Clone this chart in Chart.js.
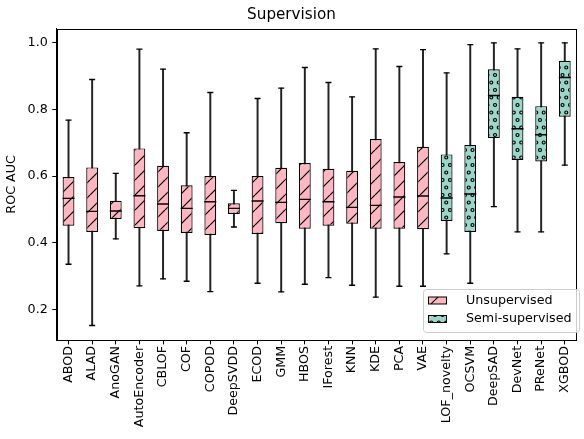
<!DOCTYPE html>
<html>
<head>
<meta charset="utf-8">
<script src="https://cdn.jsdelivr.net/npm/chart.js@4/dist/chart.umd.min.js"></script>
<style>
  html, body { margin: 0; padding: 0; background: #fff; }
  #chart { display: block; }
</style>
</head>
<body>
<canvas id="chart" width="584" height="439"></canvas>
<script>
// values (ROC AUC per model)
const categories = ['ABOD', 'ALAD', 'AnoGAN', 'AutoEncoder', 'CBLOF', 'COF', 'COPOD', 'DeepSVDD',
    'ECOD', 'GMM', 'HBOS', 'IForest', 'KNN', 'KDE', 'PCA', 'VAE', 'LOF_novelty', 'OCSVM',
    'DeepSAD', 'DevNet', 'PReNet', 'XGBOD'];
const groups = ['u', 'u', 'u', 'u', 'u', 'u', 'u', 'u', 'u', 'u', 'u', 'u', 'u', 'u', 'u', 'u', 's',
    's', 's', 's', 's', 's'];
const whiskLow = [0.335, 0.151, 0.411, 0.270, 0.291, 0.284, 0.253, 0.447, 0.278, 0.252, 0.275,
    0.295, 0.272, 0.236, 0.269, 0.269, 0.366, 0.278, 0.508, 0.432, 0.432, 0.633];
const q1 = [0.451, 0.432, 0.471, 0.443, 0.435, 0.429, 0.423, 0.486, 0.426, 0.458, 0.442, 0.451,
    0.457, 0.442, 0.442, 0.440, 0.465, 0.432, 0.714, 0.648, 0.644, 0.778];
const medians = [0.533, 0.494, 0.495, 0.541, 0.516, 0.503, 0.523, 0.503, 0.525, 0.521, 0.530,
    0.523, 0.506, 0.512, 0.537, 0.540, 0.534, 0.546, 0.842, 0.742, 0.724, 0.896];
const q3 = [0.597, 0.626, 0.526, 0.683, 0.631, 0.572, 0.600, 0.518, 0.600, 0.625, 0.639, 0.622,
    0.616, 0.711, 0.642, 0.688, 0.665, 0.693, 0.921, 0.838, 0.810, 0.946];
const whiskHigh = [0.768, 0.890, 0.608, 0.981, 0.921, 0.730, 0.851, 0.557, 0.833, 0.864, 0.926,
    0.881, 0.838, 0.982, 0.929, 0.980, 0.910, 0.995, 1.000, 0.982, 1.000, 1.000];
const seriesNames = ['Unsupervised', 'Semi-supervised'];
const yTicks = [0.2, 0.4, 0.6, 0.8, 1.0];

const PINK = '#ffb6c1';
const GREEN = '#99d8c9';
const FONT = 'DejaVu Sans';

function makePattern(fill, kind) {
    const c = document.createElement('canvas');
    c.width = 15;
    c.height = 15;
    const g = c.getContext('2d');
    g.fillStyle = fill;
    g.fillRect(0, 0, 15, 15);
    g.strokeStyle = '#000';
    g.lineWidth = 1.2;
    if (kind === 'slash') {
        [-15, 0, 15].forEach(k => {
            g.beginPath();
            g.moveTo(k, 15);
            g.lineTo(k + 15, 0);
            g.stroke();
        });
    } else {
        const pts = [[0, 0], [7.5, 0], [15, 0], [3.75, 7.5], [11.25, 7.5], [0, 15], [7.5, 15], [15, 15]];
        pts.forEach(p => {
            g.beginPath();
            g.arc(p[0], p[1], 1.5, 0, Math.PI * 2);
            g.stroke();
        });
    }
    return g.createPattern(c, 'repeat');
}

const slashFill = makePattern(PINK, 'slash');
const dotFill = makePattern(GREEN, 'dots');

const boxData = key => categories.map((_, i) => groups[i] === key ? [q1[i], q3[i]] : null);

const frameAndLegend = {
    id: 'frameAndLegend',
    afterDraw(chart) {
        const ctx = chart.ctx;
        const a = chart.chartArea;
        ctx.save();
        ctx.strokeStyle = '#000';
        ctx.lineWidth = 1;
        ctx.strokeRect(Math.round(a.left) + 0.5, Math.round(a.top) + 0.5,
            Math.round(a.right - a.left) - 1, Math.round(a.bottom - a.top));

        // legend, lower right
        const lx = 423.5, ly = 289.5, lw = 156, lh = 43;
        ctx.fillStyle = 'rgba(255,255,255,0.8)';
        ctx.strokeStyle = '#cccccc';
        ctx.beginPath();
        ctx.roundRect(lx, ly, lw, lh, 3);
        ctx.fill();
        ctx.stroke();

        const fills = [slashFill, dotFill];
        const rowsY = [300.5, 319];
        ctx.font = `12.7px "${FONT}"`;
        ctx.textBaseline = 'middle';
        seriesNames.forEach((name, i) => {
            const py = rowsY[i] - 3.5;
            ctx.fillStyle = fills[i];
            ctx.fillRect(428.5, py, 18, 7);
            ctx.strokeStyle = '#000';
            ctx.lineWidth = 1;
            ctx.strokeRect(428.5, py, 18, 7);
            ctx.fillStyle = '#000';
            ctx.fillText(name, 466, rowsY[i]);
        });
        ctx.restore();
    }
};

new Chart(document.getElementById('chart'), {
    data: {
        labels: categories,
        datasets: [
            {
                type: 'bar',
                label: 'whiskers',
                data: categories.map((_, i) => [whiskLow[i], whiskHigh[i]]),
                backgroundColor: '#222',
                barThickness: 1.3,
                grouped: false,
                order: 9
            },
            {
                type: 'bar',
                label: seriesNames[0],
                data: boxData('u'),
                backgroundColor: slashFill,
                borderColor: '#000',
                borderWidth: 1.2,
                borderSkipped: false,
                barPercentage: 0.5,
                categoryPercentage: 1,
                grouped: false,
                order: 5
            },
            {
                type: 'bar',
                label: seriesNames[1],
                data: boxData('s'),
                backgroundColor: dotFill,
                borderColor: '#000',
                borderWidth: 1.2,
                borderSkipped: false,
                barPercentage: 0.5,
                categoryPercentage: 1,
                grouped: false,
                order: 5
            },
            {
                type: 'line',
                label: 'median',
                data: medians,
                showLine: false,
                pointStyle: 'line',
                pointRadius: 6,
                pointBorderWidth: 1.4,
                pointBorderColor: '#000',
                order: 1
            },
            {
                type: 'line',
                label: 'capLow',
                data: whiskLow,
                showLine: false,
                pointStyle: 'line',
                pointRadius: 3,
                pointBorderWidth: 1.3,
                pointBorderColor: '#000',
                order: 1
            },
            {
                type: 'line',
                label: 'capHigh',
                data: whiskHigh,
                showLine: false,
                pointStyle: 'line',
                pointRadius: 3,
                pointBorderWidth: 1.3,
                pointBorderColor: '#000',
                order: 1
            }
        ]
    },
    options: {
        responsive: false,
        animation: false,
        layout: { padding: { left: 0, right: 1, top: 0, bottom: 0 } },
        plugins: {
            legend: { display: false },
            tooltip: { enabled: false },
            title: {
                display: true,
                text: 'Supervision',
                color: '#000',
                font: { family: FONT, size: 15.2, weight: 'normal' },
                padding: { top: 5.6, bottom: 4.9 }
            }
        },
        scales: {
            x: {
                type: 'category',
                offset: true,
                grid: { display: true, offset: false, drawOnChartArea: false, tickLength: 4.4, color: '#000' },
                border: { display: true, color: '#000' },
                ticks: {
                    color: '#000',
                    font: { family: FONT, size: 12.7 },
                    minRotation: 90,
                    maxRotation: 90,
                    autoSkip: false,
                    padding: 1.5
                },
                afterFit: s => { s.height = 99; }
            },
            y: {
                type: 'linear',
                min: 0.1075,
                max: 1.0425,
                grid: { display: true, drawOnChartArea: false, tickLength: 4.4, color: '#000' },
                border: { display: true, color: '#000' },
                ticks: {
                    color: '#000',
                    font: { family: FONT, size: 12.7 },
                    padding: 4.5,
                    callback: v => Number(v).toFixed(1)
                },
                afterBuildTicks: s => { s.ticks = yTicks.map(v => ({ value: v })); },
                title: {
                    display: true,
                    text: 'ROC AUC',
                    color: '#000',
                    font: { family: FONT, size: 12.7 },
                    padding: { top: 4, bottom: 0 }
                },
                afterFit: s => { s.width = 56.7; }
            }
        }
    },
    plugins: [frameAndLegend]
});
</script>
</body>
</html>
